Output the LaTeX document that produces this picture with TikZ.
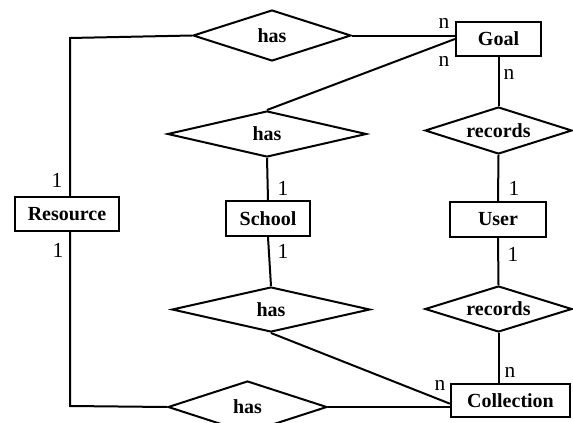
\documentclass[tikz,border=0pt]{standalone}
\usepackage{fontspec}
\setmainfont{Liberation Serif}
\usetikzlibrary{shapes.geometric}

\tikzset{
  entity/.style={draw, line width=1.1pt, inner sep=0pt, font=\bfseries},
  relation/.style={draw, diamond, aspect=3, line width=1pt, inner sep=0pt, font=\bfseries},
  card/.style={inner sep=0pt},
  link/.style={line width=1pt}
}

\begin{document}
\begin{tikzpicture}[x=0.5pt,y=0.5pt,yscale=-1,xscale=1,font=\fontsize{10.7}{12}\selectfont]
%set diagram size 573 x 423, the bottom diamond is cut off
\useasboundingbox (0,0) rectangle (573,423);
\clip (0,0) rectangle (573,423);

\node [entity, minimum width=42.5pt, minimum height=17pt] (goal) at (498.5,39) {Goal};
\node [entity, minimum width=52pt, minimum height=17pt] (resource) at (67,214) {Resource};
\node [entity, minimum width=42pt, minimum height=17.5pt] (school) at (268,218.5) {School};
\node [entity, minimum width=48pt, minimum height=17.5pt] (user) at (498,219.5) {User};
\node [entity, minimum width=59.5pt, minimum height=16.5pt] (collection) at (510.5,400.5) {Collection};

\node [relation, minimum width=79pt, minimum height=25.5pt] (has1) at (272,35.5) {has};
\node [relation, minimum width=99.5pt, minimum height=23pt] (has2) at (267,134) {has};
\node [relation, minimum width=73.5pt, minimum height=23.5pt] (records1) at (498.5,130.5) {records};
\node [relation, minimum width=99pt, minimum height=22.5pt] (has3) at (271,309.5) {has};
\node [relation, minimum width=73.5pt, minimum height=23pt] (records2) at (498.5,309) {records};
\node [relation, minimum width=79.5pt, minimum height=26pt] (has4) at (247.5,407) {has};

\coordinate (topbend) at (70,38);
\coordinate (botbend) at (70,406);

\draw [link] (has1.west) -- (topbend) -- (topbend |- resource.north);
\draw [link] (has1.east) -- (has1.east -| goal.west);
\draw [link] (goal.west) -- (has2.north);
\draw [link] (goal.south) -- (records1.north);
\draw [link] (has2.south) -- (school.north);
\draw [link] (records1.south) -- (user.north);
\draw [link] (school.south) -- (has3.north);
\draw [link] (user.south) -- (records2.north);
\draw [link] (records2.south) -- (records2.south |- collection.north);
\draw [link] (has3.south) -- (collection.183);
\draw [link] (has4.east) -- (has4.east -| collection.west);
\draw [link] (has4.west) -- (botbend) -- (botbend |- resource.south);

\node [card] (cgoal1) at (444,23) {n};
\node [card] (cgoal2) at (444,61) {n};
\node [card] (cgoal3) at (509,74) {n};
\node [card] (cres1) at (57,180) {1};
\node [card] (cres2) at (58,250) {1};
\node [card] (csch1) at (283,188) {1};
\node [card] (csch2) at (283,251) {1};
\node [card] (cusr1) at (514,188) {1};
\node [card] (cusr2) at (513,254) {1};
\node [card] (ccol1) at (510,372) {n};
\node [card] (ccol2) at (440,385) {n};
\node [card] (ccol3) at (440,430) {n};

\end{tikzpicture}
\end{document}
